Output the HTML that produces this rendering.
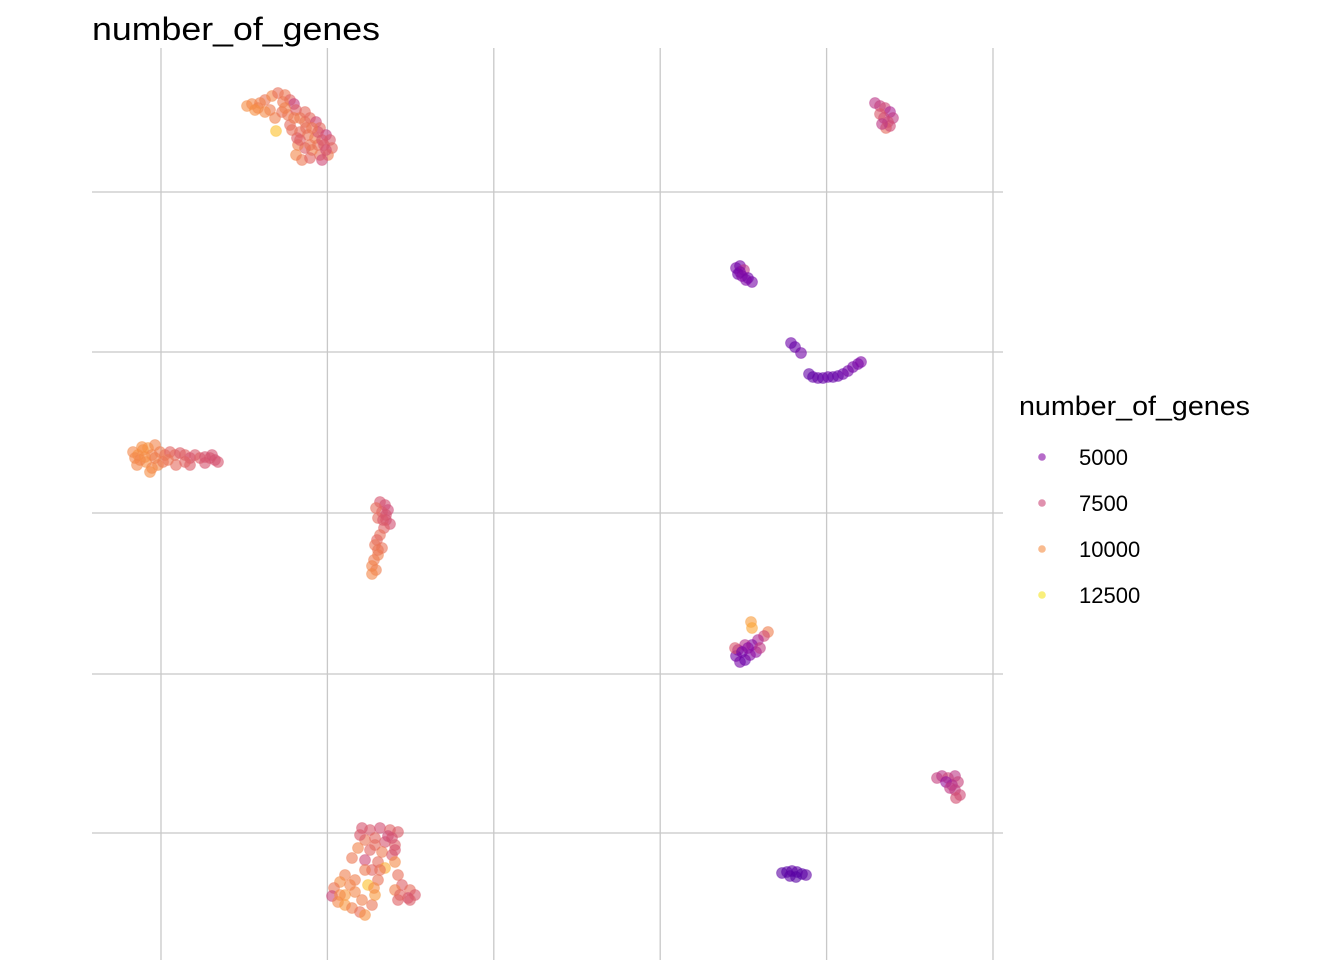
<!DOCTYPE html>
<html><head><meta charset="utf-8"><style>
body{margin:0;background:#fff;}
svg{display:block;font-family:"Liberation Sans",sans-serif;}
</style></head><body>
<svg width="1344" height="960" id="chart">
<text x="92" y="40" font-size="32" textLength="288" lengthAdjust="spacingAndGlyphs" fill="#000">number_of_genes</text>
<g id="grid"></g>
<g id="pts"></g>
<g id="legend">
<text x="1019" y="415" font-size="27" textLength="231" lengthAdjust="spacingAndGlyphs" fill="#000">number_of_genes</text>
</g>
</svg>
<script>
const gridX = [0, 16.64, 33.28, 49.92, 66.56, 83.2];
const gridY = [0, 15.9, 32.0, 48.1, 64.1];
const legendValues = [5000, 7500, 10000, 12500];
const legendLabels = ["5000", "7500", "10000", "12500"];
const umapX = [
8.6,9.1,9.7,10.4,11.1,11.7,12.4,12.9,13.3,10.9,11.4,12.1,12.7,13.5,13.9,14.4,14.9,15.5,15.9,16.5,16.9,17.1,16.7,15.9,15.1,14.4,13.7,13.5,14.1,14.9,15.7,16.3,13.9,14.7,15.4,12.9,11.5,9.9,12.2,13.6,16.1,14.5,
13.1,13.9,14.9,15.7,16.5,12.4,14.4,15.1,16.1,13.3,10.4,9.4,
-2.8,-2.3,-1.8,-1.3,-0.9,-1.5,-0.9,-0.3,-2.1,-0.1,0.4,0.9,1.4,1.9,2.4,2.9,3.4,3.9,4.4,4.9,5.4,5.7,-1.1,-2.6,0.2,1.5,2.9,-0.6,
-1.6,-0.6,-2.4,0.7,2.4,4.4,5.1,-1.9,
21.9,22.4,22.7,22.1,21.7,22.5,22.9,22.3,21.9,21.6,21.4,22.1,21.7,21.3,21.1,21.5,21.1,22.5,21.5,22.2,21.7,
20.1,20.9,21.9,22.9,23.7,20.4,21.4,22.4,23.4,19.7,20.9,22.1,23.1,21.7,22.4,21.1,23.4,19.1,20.4,18.4,17.9,17.3,17.1,17.7,18.4,19.1,19.9,20.4,21.1,21.4,20.7,19.4,18.4,23.7,24.1,24.9,25.4,24.7,23.7,23.4,21.7,21.3,19.4,
19.9,22.7,21.4,23.4,20.4,18.9,17.9,23.9,24.9,23.1,21.9,20.1,
71.4,71.9,72.4,72.9,73.2,72.7,72.3,71.9,72.5,72.9,72.1,
57.5,57.9,58.3,57.7,58.1,58.7,59.1,58.5,57.9,
63.0,63.4,64.0,64.8,65.2,65.7,66.2,66.7,67.2,67.7,68.2,68.7,69.2,69.7,70.0,
59.0,59.1,60.7,60.3,59.7,59.1,58.4,57.7,57.5,57.9,58.4,58.9,59.5,59.9,57.4,58.1,58.7,
77.6,78.1,78.7,79.4,79.7,79.1,78.5,79.4,79.9,79.5,78.9,
62.1,62.6,63.1,63.6,64.1,64.5,62.9,63.5
];
const umapY = [
72.7,72.9,72.5,73.3,73.7,74.0,73.8,73.3,72.9,72.3,71.5,72.1,71.8,72.3,71.5,71.1,71.5,71.1,70.5,69.8,69.3,68.5,67.8,67.8,68.3,68.5,68.8,67.8,67.3,67.5,68.8,68.8,70.1,69.8,69.5,70.8,70.2,73.0,73.1,69.5,67.3,70.5,
70.3,69.3,68.8,70.1,68.3,72.5,72.1,70.5,69.3,71.5,72.1,72.3,
38.1,37.8,38.3,38.5,37.8,37.1,36.5,36.8,37.3,38.1,37.8,38.1,37.8,38.0,37.8,37.5,37.8,37.5,37.6,37.5,37.3,37.1,36.1,37.5,37.1,36.8,36.8,38.8,
37.6,37.5,36.8,37.3,37.1,37.0,37.8,38.6,
33.1,32.8,32.3,32.1,31.5,31.3,30.9,30.5,29.8,29.3,28.8,28.5,27.8,27.3,26.7,26.3,25.9,31.8,32.5,31.3,28.3,
0.5,0.3,0.5,0.3,0.1,-0.7,-0.5,-0.9,-1.2,-1.5,-1.7,-1.9,-2.2,-2.9,-3.5,-3.7,-2.9,-2.5,-2.7,-4.2,-4.9,-5.5,-6.3,-6.9,-7.2,-7.5,-7.9,-8.2,-7.2,-6.2,-5.2,-4.7,-6.2,-4.2,-5.2,-5.7,-6.2,-6.5,-6.7,-5.7,-4.7,-5.5,-5.9,
-0.2,-0.3,-1.2,-1.7,-3.7,-5.2,-6.2,-6.2,-6.7,-0.5,-3.7,-6.7,
73.0,72.7,72.5,72.1,71.5,71.1,71.5,71.9,70.5,70.7,70.9,
56.5,56.7,56.3,55.9,55.7,55.5,55.1,55.3,56.1,
49.0,48.6,48.0,45.9,45.6,45.5,45.5,45.6,45.6,45.7,45.9,46.2,46.6,46.9,47.1,
21.1,20.5,20.1,19.7,19.3,18.8,18.8,18.3,17.7,17.1,17.3,17.8,18.1,18.5,18.5,18.1,18.5,
5.5,5.7,5.5,5.7,5.1,4.8,5.1,4.3,3.8,3.5,4.5,
-4.0,-3.9,-3.8,-3.9,-4.1,-4.2,-4.3,-4.4
];
const genes = [
10000,9800,9500,9200,9800,9000,9300,8600,7200,9400,9600,9100,9300,8400,9500,9200,8800,7600,8800,7200,8200,8700,9400,9000,9600,8300,9500,9800,9300,8600,9000,8400,8900,9200,9500,8800,11500,9600,9300,8400,7600,9000,
9000,8500,9200,8000,7800,9600,8800,9300,8200,9400,9900,10100,
9800,10200,9900,10300,9600,10100,9700,9900,9600,9400,9200,8600,8800,8300,8500,8000,8200,8400,7900,8100,7800,8000,10000,9800,9300,8800,8300,9700,
10000,9500,9800,9200,8600,8000,7900,10100,
8000,7800,7600,8200,8800,7900,7800,8500,9000,8700,9200,9100,9600,9400,9700,9500,9800,7900,8900,8200,9200,
8000,8200,7800,8500,8300,9200,8700,8000,8400,9700,8600,9400,8200,8800,11000,8600,9900,9300,7600,9500,10000,9200,7400,9800,10300,9600,9000,10200,9200,10400,11500,9500,10400,9000,8400,8900,8200,7800,8500,9600,9100,10000,9800,
8200,7600,8800,8000,9400,9700,9900,8600,8300,7900,9000,9600,
6800,7200,7600,6200,7000,7800,7400,8200,8800,7600,6900,
4600,4400,6800,4200,5000,4300,4500,4800,4700,
4300,4100,4400,4000,3900,4100,4000,4200,4000,4100,4300,4400,4500,4600,4800,
10500,10800,9500,7600,6200,5000,6600,5800,4400,4600,4200,4900,5400,7000,8200,4500,5200,
7200,6800,7500,6900,7300,6600,5600,7100,7600,7800,7000,
3800,3700,3900,3800,3700,3900,3800,3700
];
const x = v => 161 + v * 10;
const y = v => 833 - v * 10;
const stops = ["#0d0887","#41049d","#6a00a8","#8f0da4","#b12a90","#cc4778","#e16462","#f2844b","#fca636","#fcce25","#f0f921"];
function hex(c){return [1,3,5].map(i=>parseInt(c.substr(i,2),16));}
function color(v){
  let t=(v-2000)/11000; t=Math.max(0,Math.min(1,t));
  const p=t*10, i=Math.min(9,Math.floor(p)), f=p-i;
  const a=hex(stops[i]), b=hex(stops[i+1]);
  return "rgb("+a.map((c,k)=>Math.round(c+(b[k]-c)*f)).join(",")+")";
}
const NS="http://www.w3.org/2000/svg";
const grid=document.getElementById("grid");
gridX.forEach(v=>{
  const l=document.createElementNS(NS,"line");
  l.setAttribute("x1",x(v));l.setAttribute("x2",x(v));l.setAttribute("y1",48);l.setAttribute("y2",960);
  l.setAttribute("stroke","#c8c8c8");l.setAttribute("stroke-width","1.3");
  
  
  grid.appendChild(l);
});
gridY.forEach(v=>{
  const l=document.createElementNS(NS,"line");
  l.setAttribute("y1",y(v));l.setAttribute("y2",y(v));l.setAttribute("x1",92);l.setAttribute("x2",1003);
  l.setAttribute("stroke","#c8c8c8");l.setAttribute("stroke-width","1.3");
  
  
  grid.appendChild(l);
});
const pts=document.getElementById("pts");
for(let i=0;i<umapX.length;i++){
  const c=document.createElementNS(NS,"circle");
  c.setAttribute("cx",x(umapX[i]));c.setAttribute("cy",y(umapY[i]));c.setAttribute("r",5.5);
  c.setAttribute("fill",color(genes[i]));c.setAttribute("fill-opacity","0.6");
  c.setAttribute("stroke",color(genes[i]));c.setAttribute("stroke-opacity","0.3");
  
  
  pts.appendChild(c);
}
const lg=document.getElementById("legend");
legendValues.forEach((v,i)=>{
  const cy=457+i*46;
  const c=document.createElementNS(NS,"circle");
  c.setAttribute("cx",1042);c.setAttribute("cy",cy);c.setAttribute("r",3.8);
  c.setAttribute("fill",color(v));c.setAttribute("fill-opacity","0.6");
  
  
  lg.appendChild(c);
  const t=document.createElementNS(NS,"text");
  t.setAttribute("x",1079);t.setAttribute("y",cy+8);t.setAttribute("font-size","22");
  t.textContent=legendLabels[i];
  
  
  lg.appendChild(t);
});
</script>
</body></html>
